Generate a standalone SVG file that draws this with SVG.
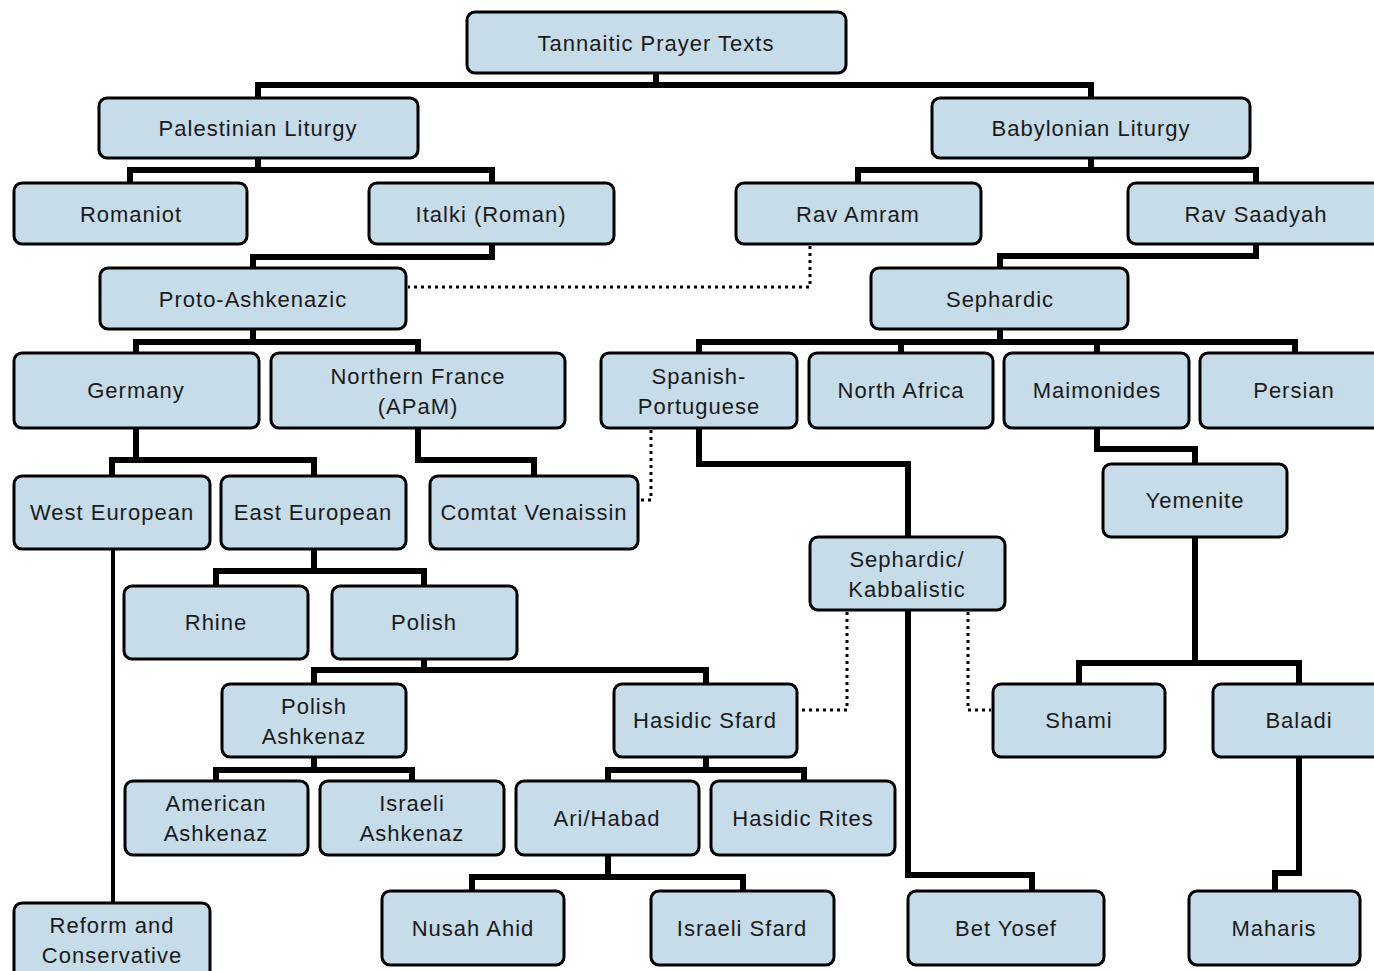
<svg xmlns="http://www.w3.org/2000/svg" width="1374" height="971" viewBox="0 0 1374 971">
<style>
.n rect{fill:#c6dce8;stroke:#000;stroke-width:3}
.n text{font-family:"Liberation Sans",Arial,sans-serif;font-size:22px;letter-spacing:1px;fill:#1a1a1a;text-anchor:middle}
.c path{fill:none;stroke:#000;stroke-width:6;stroke-linejoin:miter}
.c path.thin{stroke-width:4}
.c path.dot{stroke-width:3;stroke-dasharray:3 4}
</style>
<rect width="1374" height="971" fill="#fff"/>
<g id="connectors" class="c">
<path d="M258,98 V85 H1091 V98 M656,73 V85"/>
<path d="M130,183 V170 H492 V183 M258,158 V170"/>
<path d="M858,183 V170 H1256 V183 M1091,158 V170"/>
<path d="M492,244 V257 H253 V268"/>
<path d="M1256,244 V256 H1000 V268"/>
<path d="M136,353 V342 H418 V353 M253,329 V342"/>
<path d="M699,353 V342 H1295 V353 M1000,329 V342 M901,342 V353 M1097,342 V353"/>
<path d="M136,428 V460 M112,476 V460 H314 V476"/>
<path d="M418,428 V460 H534 V476"/>
<path d="M1097,428 V449 H1195 V464"/>
<path d="M699,428 V464 H908 V537"/>
<path d="M216,586 V571 H424 V586 M314,549 V571"/>
<path d="M314,684 V670 H706 V684 M424,659 V670"/>
<path d="M1195,537 V663 M1079,684 V663 H1299 V684"/>
<path d="M216,781 V770 H412 V781 M314,757 V770"/>
<path d="M608,781 V770 H804 V781 M706,757 V770"/>
<path d="M472,891 V877 H743 V891 M608,855 V877"/>
<path d="M908,610 V875 H1032 V891"/>
<path d="M1299,757 V873 H1275 V891"/>
<path class="thin" d="M113,549 V903"/>
<path class="dot" d="M810,246 V287 H408"/>
<path class="dot" d="M651,430 V500 H640"/>
<path class="dot" d="M847,612 V710 H799"/>
<path class="dot" d="M968,612 V710 H991"/>
</g>
<g id="tannaitic" class="n"><rect x="467" y="12" width="379" height="61" rx="8"/><text x="656" y="51">Tannaitic Prayer Texts</text></g>
<g id="palestinian" class="n"><rect x="99" y="98" width="319" height="60" rx="8"/><text x="258" y="136">Palestinian Liturgy</text></g>
<g id="babylonian" class="n"><rect x="932" y="98" width="318" height="60" rx="8"/><text x="1091" y="136">Babylonian Liturgy</text></g>
<g id="romaniot" class="n"><rect x="14" y="183" width="233" height="61" rx="8"/><text x="131" y="222">Romaniot</text></g>
<g id="italki" class="n"><rect x="369" y="183" width="245" height="61" rx="8"/><text x="491" y="222">Italki (Roman)</text></g>
<g id="ravamram" class="n"><rect x="736" y="183" width="245" height="61" rx="8"/><text x="858" y="222">Rav Amram</text></g>
<g id="ravsaadyah" class="n"><rect x="1128" y="183" width="256" height="61" rx="8"/><text x="1256" y="222">Rav Saadyah</text></g>
<g id="protoashkenazic" class="n"><rect x="100" y="268" width="306" height="61" rx="8"/><text x="253" y="307">Proto-Ashkenazic</text></g>
<g id="sephardic" class="n"><rect x="871" y="268" width="257" height="61" rx="8"/><text x="1000" y="307">Sephardic</text></g>
<g id="germany" class="n"><rect x="14" y="353" width="245" height="75" rx="8"/><text x="136" y="398">Germany</text></g>
<g id="northernfrance" class="n"><rect x="271" y="353" width="294" height="75" rx="8"/><text x="418" y="384">Northern France</text><text x="418" y="414">(APaM)</text></g>
<g id="spanishportuguese" class="n"><rect x="601" y="353" width="196" height="75" rx="8"/><text x="699" y="384">Spanish-</text><text x="699" y="414">Portuguese</text></g>
<g id="northafrica" class="n"><rect x="809" y="353" width="184" height="75" rx="8"/><text x="901" y="398">North Africa</text></g>
<g id="maimonides" class="n"><rect x="1004" y="353" width="185" height="75" rx="8"/><text x="1097" y="398">Maimonides</text></g>
<g id="persian" class="n"><rect x="1200" y="353" width="190" height="75" rx="8"/><text x="1294" y="398">Persian</text></g>
<g id="westeuropean" class="n"><rect x="14" y="476" width="196" height="73" rx="8"/><text x="112" y="520">West European</text></g>
<g id="easteuropean" class="n"><rect x="221" y="476" width="185" height="73" rx="8"/><text x="313" y="520">East European</text></g>
<g id="comtat" class="n"><rect x="430" y="476" width="208" height="73" rx="8"/><text x="534" y="520">Comtat Venaissin</text></g>
<g id="yemenite" class="n"><rect x="1103" y="464" width="184" height="73" rx="8"/><text x="1195" y="508">Yemenite</text></g>
<g id="sephardickabbalistic" class="n"><rect x="810" y="537" width="195" height="73" rx="8"/><text x="907" y="567">Sephardic/</text><text x="907" y="597">Kabbalistic</text></g>
<g id="rhine" class="n"><rect x="124" y="586" width="184" height="73" rx="8"/><text x="216" y="630">Rhine</text></g>
<g id="polish" class="n"><rect x="332" y="586" width="185" height="73" rx="8"/><text x="424" y="630">Polish</text></g>
<g id="polishashkenaz" class="n"><rect x="222" y="684" width="184" height="73" rx="8"/><text x="314" y="714">Polish</text><text x="314" y="744">Ashkenaz</text></g>
<g id="hasidicsfard" class="n"><rect x="614" y="684" width="183" height="73" rx="8"/><text x="705" y="728">Hasidic Sfard</text></g>
<g id="shami" class="n"><rect x="993" y="684" width="172" height="73" rx="8"/><text x="1079" y="728">Shami</text></g>
<g id="baladi" class="n"><rect x="1213" y="684" width="180" height="73" rx="8"/><text x="1299" y="728">Baladi</text></g>
<g id="americanashkenaz" class="n"><rect x="125" y="781" width="183" height="74" rx="8"/><text x="216" y="811">American</text><text x="216" y="841">Ashkenaz</text></g>
<g id="israeliashkenaz" class="n"><rect x="320" y="781" width="184" height="74" rx="8"/><text x="412" y="811">Israeli</text><text x="412" y="841">Ashkenaz</text></g>
<g id="arihabad" class="n"><rect x="516" y="781" width="183" height="74" rx="8"/><text x="607" y="826">Ari/Habad</text></g>
<g id="hasidicrites" class="n"><rect x="711" y="781" width="184" height="74" rx="8"/><text x="803" y="826">Hasidic Rites</text></g>
<g id="reformconservative" class="n"><rect x="14" y="903" width="196" height="80" rx="8"/><text x="112" y="933">Reform and</text><text x="112" y="963">Conservative</text></g>
<g id="nusahahid" class="n"><rect x="382" y="891" width="182" height="74" rx="8"/><text x="473" y="936">Nusah Ahid</text></g>
<g id="israelisfard" class="n"><rect x="651" y="891" width="183" height="74" rx="8"/><text x="742" y="936">Israeli Sfard</text></g>
<g id="betyosef" class="n"><rect x="908" y="891" width="196" height="74" rx="8"/><text x="1006" y="936">Bet Yosef</text></g>
<g id="maharis" class="n"><rect x="1189" y="891" width="171" height="74" rx="8"/><text x="1274" y="936">Maharis</text></g>
</svg>
